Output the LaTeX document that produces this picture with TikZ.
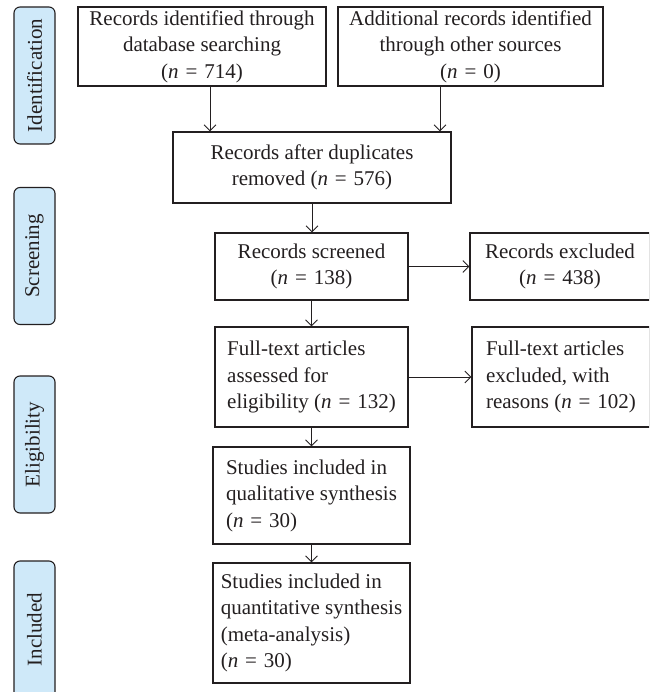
\documentclass[tikz,border=0pt]{standalone}
\usepackage{fontspec}
\setmainfont{Liberation Serif}
\usetikzlibrary{arrows.meta}
\definecolor{ink}{RGB}{35,31,32}
\definecolor{phase}{RGB}{207,233,249}
\newcommand{\ncount}[1]{{\itshape n}\hspace{0.33em}=\hspace{0.33em}#1}
\begin{document}
\begin{tikzpicture}[x=1pt,y=-1pt,
  font=\fontsize{21}{26.5}\selectfont,
  box/.style={draw=ink, text=ink, line width=1.1pt, inner sep=0pt, align=center},
  lbox/.style={draw=ink, text=ink, line width=1.1pt, inner sep=0pt, align=left},
  phasebox/.style={draw=ink, fill=phase, text=ink, line width=1.1pt, rounded corners=6pt,
    rotate=90, minimum width=137pt, minimum height=41pt, inner sep=0pt},
  arr/.style={draw=ink, line width=0.9pt, -{Straight Barb[length=6pt,width=12pt]}}]
\useasboundingbox (0,0) rectangle (649,692);
\clip (0,0) rectangle (649,692);
% phase labels
\node[phasebox] (p1) at (34.5,75.5) {Identification};
\node[phasebox] (p2) at (34.5,256) {Screening};
\node[phasebox] (p3) at (34.5,444.5) {Eligibility};
\node[phasebox] (p4) at (34.5,629.5) {Included};
% boxes
\node[box, minimum width=248pt, minimum height=79pt] (b1) at (202,46.5)
  {Records identified through\\database searching\\(\ncount{714})};
\node[box, minimum width=265pt, minimum height=79pt] (b2) at (470.5,46.5)
  {Additional records identified\\through other sources\\(\ncount{0})};
\node[box, minimum width=278pt, minimum height=71pt] (b3) at (312,167.5)
  {Records after duplicates\\removed (\ncount{576})};
\node[box, minimum width=193pt, minimum height=67pt] (b4) at (311.5,266.5)
  {Records screened\\(\ncount{138})};
\node[box, minimum width=180pt, minimum height=67pt] (b5) at (560,266.5)
  {Records excluded\\(\ncount{438})};
\node[lbox, minimum width=193pt, minimum height=100pt] (b6) at (311.5,377)
  {Full-text articles\\assessed for\\eligibility (\ncount{132})};
\node[lbox, minimum width=178pt, minimum height=100pt] (b7) at (561,377)
  {Full-text articles\\excluded, with\\reasons (\ncount{102})};
\node[lbox, minimum width=197pt, minimum height=97pt] (b8) at (311.5,495.5)
  {Studies included in\\qualitative synthesis\\(\ncount{30})};
\node[lbox, minimum width=197pt, minimum height=120pt] (b9) at (311.5,623)
  {Studies included in\\quantitative synthesis\\(meta-analysis)\\(\ncount{30})};
% connectors
\draw[arr] ([xshift=8pt]b1.south) -- ([xshift=8pt]b1.south |- b3.north);
\draw[arr] ([xshift=-30.5pt]b2.south) -- ([xshift=-30.5pt]b2.south |- b3.north);
\draw[arr] (b3.south) -- (b3.south |- b4.north);
\draw[arr] (b4.east) -- (b4.east -| b5.west);
\draw[arr] (b4.south) -- (b6.north);
\draw[arr] (b6.east) -- (b6.east -| b7.west);
\draw[arr] (b6.south) -- (b8.north);
\draw[arr] (b8.south) -- (b9.north);
\end{tikzpicture}
\end{document}
